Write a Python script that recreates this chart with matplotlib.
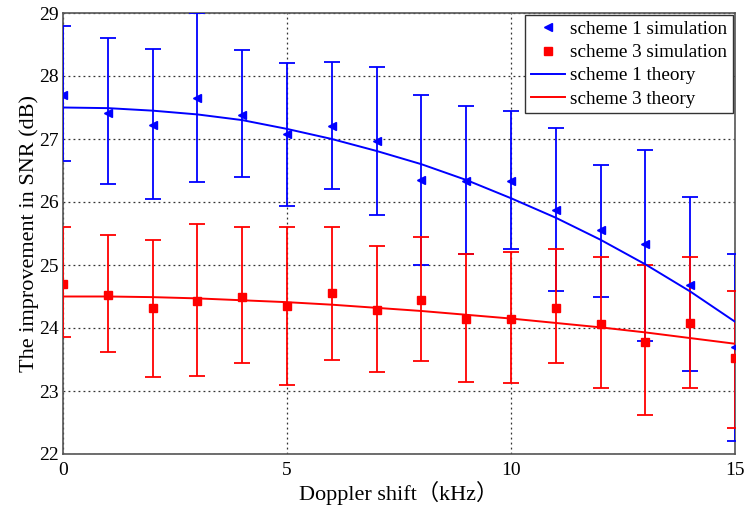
import matplotlib.pyplot as plt
import numpy as np

doppler = np.arange(0, 16)

# scheme 1 simulation: mean and error bar limits
s1_mean = [27.70, 27.42, 27.22, 27.65, 27.38, 27.08, 27.20, 26.97,
           26.35, 26.33, 26.33, 25.88, 25.55, 25.33, 24.68, 23.70]
s1_low = [26.65, 26.28, 26.05, 26.32, 26.40, 25.93, 26.20, 25.80,
          25.00, 25.17, 25.25, 24.58, 24.50, 23.80, 23.32, 22.20]
s1_high = [28.80, 28.60, 28.43, 29.00, 28.42, 28.20, 28.22, 28.15,
           27.70, 27.52, 27.45, 27.18, 26.58, 26.82, 26.08, 25.17]

# scheme 3 simulation
s3_mean = [24.70, 24.53, 24.32, 24.43, 24.50, 24.35, 24.55, 24.28,
           24.45, 24.15, 24.15, 24.32, 24.07, 23.78, 24.08, 23.52]
s3_low = [23.85, 23.62, 23.23, 23.24, 23.44, 23.10, 23.50, 23.30,
          23.48, 23.15, 23.12, 23.45, 23.05, 22.62, 23.05, 22.42]
s3_high = [25.60, 25.47, 25.40, 25.65, 25.60, 25.60, 25.60, 25.30,
           25.45, 25.17, 25.20, 25.25, 25.12, 25.00, 25.12, 24.58]

# theory curves
s1_theory = [27.50, 27.49, 27.45, 27.39, 27.30, 27.16, 27.00, 26.81,
             26.60, 26.35, 26.06, 25.75, 25.40, 25.01, 24.58, 24.10]
s3_theory = [24.50, 24.50, 24.49, 24.47, 24.44, 24.41, 24.37, 24.32,
             24.27, 24.21, 24.15, 24.08, 24.01, 23.93, 23.84, 23.75]

plt.rcParams['font.family'] = ['Liberation Serif', 'Noto Sans CJK SC']

fig = plt.figure(figsize=(7.45, 5.05), dpi=100)
ax = fig.add_axes([63 / 745, 51 / 505, 672 / 745, 441 / 505])

blue = '#0000ff'
red = '#ff0000'

def draw_err(mean, low, high, color, marker, ms, label):
    mean = np.array(mean)
    yerr = [mean - np.array(low), np.array(high) - mean]
    ax.errorbar(doppler, mean, yerr=yerr, fmt='none', ecolor=color,
                elinewidth=1.3, capsize=6, capthick=1.3, zorder=3)
    ax.plot(doppler, mean, linestyle='none', marker=marker, color=color,
            markersize=ms, label=label, zorder=4)

draw_err(s1_mean, s1_low, s1_high, blue, '<', 6, 'scheme 1 simulation')
draw_err(s3_mean, s3_low, s3_high, red, 's', 5.5, 'scheme 3 simulation')
ax.plot(doppler, s1_theory, color=blue, lw=1.4, label='scheme 1 theory', zorder=3)
ax.plot(doppler, s3_theory, color=red, lw=1.4, label='scheme 3 theory', zorder=3)

ax.set_xlim(0, 15)
ax.set_ylim(22, 29)
ax.set_xticks([0, 5, 10, 15])
ax.set_yticks(range(22, 30))
ax.grid(True, color='#333333', linestyle=(0, (1.5, 2.5)), linewidth=0.9)
ax.tick_params(direction='in', length=0, labelsize=14)
ax.tick_params(axis='y', pad=3)
ax.tick_params(axis='x', pad=6)
for s in ax.spines.values():
    s.set_color('#555555')
    s.set_linewidth(1.2)

ax.set_xlabel('Doppler shift（kHz）', fontsize=16, labelpad=1)
ax.set_ylabel('The improvement in SNR (dB)', fontsize=16, labelpad=0)

leg = ax.legend(loc='upper right', fontsize=13.8, fancybox=False, framealpha=1,
                edgecolor='#333333', borderpad=0.3, labelspacing=0.3,
                handlelength=1.8, handletextpad=0.25, borderaxespad=0.1)
leg.get_frame().set_linewidth(1.0)

fig.savefig('out.png', dpi=100)
